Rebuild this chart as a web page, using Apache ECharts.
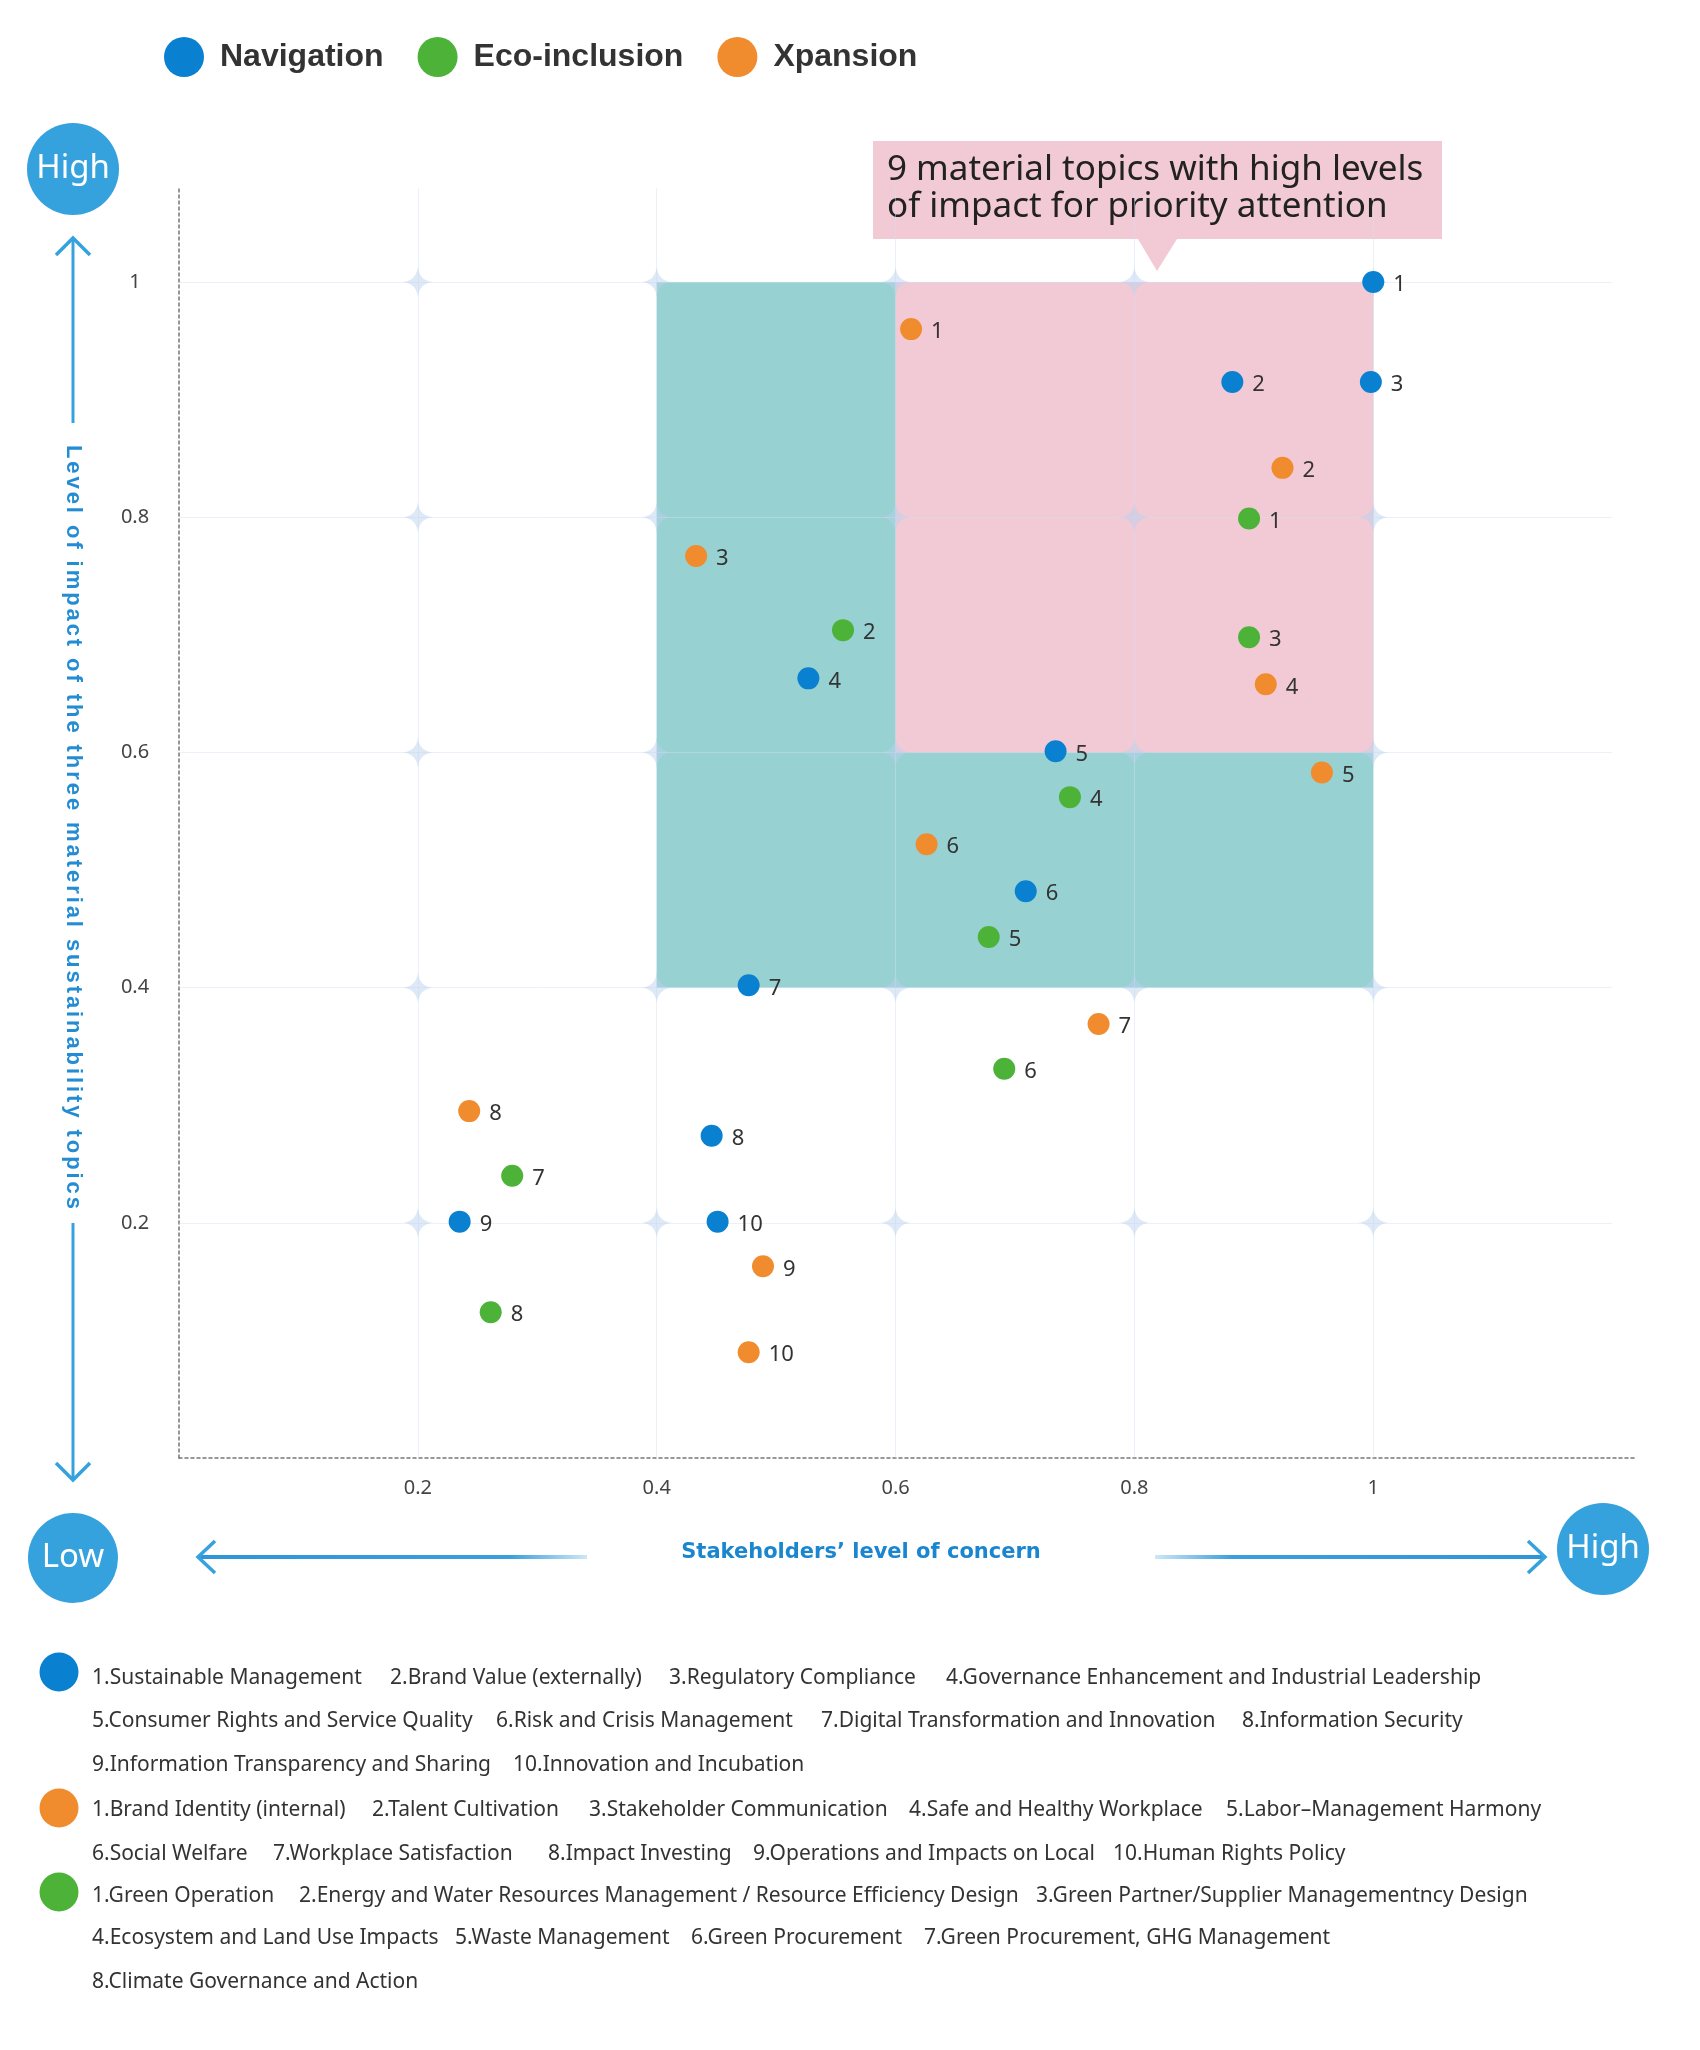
<!DOCTYPE html>
<html><head><meta charset="utf-8">
<script src="https://cdn.jsdelivr.net/npm/echarts@6/dist/echarts.min.js"></script>
<style>html,body{margin:0;padding:0;background:#fff}#chart{width:1700px;height:2050px}</style>
</head><body><div id="chart"></div>
<script>
// ---------------- data ----------------
const seriesNames = ['Navigation', 'Eco-inclusion', 'Xpansion'];
const xTicks = [0.2, 0.4, 0.6, 0.8, 1];
const yTicks = [0.2, 0.4, 0.6, 0.8, 1];

const navigationX = [1.0, 0.882, 0.998, 0.527, 0.734, 0.709, 0.477, 0.446, 0.235, 0.451];
const navigationY = [1.0, 0.915, 0.915, 0.663, 0.601, 0.482, 0.402, 0.274, 0.201, 0.201];
const ecoX = [0.896, 0.556, 0.896, 0.746, 0.678, 0.691, 0.279, 0.261];
const ecoY = [0.799, 0.704, 0.698, 0.562, 0.443, 0.331, 0.240, 0.124];
const xpansionX = [0.613, 0.924, 0.433, 0.910, 0.957, 0.626, 0.770, 0.243, 0.489, 0.477];
const xpansionY = [0.960, 0.842, 0.767, 0.658, 0.583, 0.522, 0.369, 0.295, 0.163, 0.090];

// focus zone (x0,y0,x1,y1) and priority zone
const focusZone = [0.4, 0.4, 1, 1];
const priorityZone = [0.6, 0.6, 1, 1];

const navigationTopics = ['Sustainable Management', 'Brand Value (externally)', 'Regulatory Compliance',
  'Governance Enhancement and Industrial Leadership', 'Consumer Rights and Service Quality',
  'Risk and Crisis Management', 'Digital Transformation and Innovation', 'Information Security',
  'Information Transparency and Sharing', 'Innovation and Incubation'];
const xpansionTopics = ['Brand Identity (internal)', 'Talent Cultivation', 'Stakeholder Communication',
  'Safe and Healthy Workplace', 'Labor\u2013Management Harmony', 'Social Welfare', 'Workplace Satisfaction',
  'Impact Investing', 'Operations and Impacts on Local', 'Human Rights Policy'];
const ecoTopics = ['Green Operation', 'Energy and Water Resources Management / Resource Efficiency Design',
  'Green Partner/Supplier Managementncy Design', 'Ecosystem and Land Use Impacts', 'Waste Management',
  'Green Procurement', 'Green Procurement, GHG Management', 'Climate Governance and Action'];

const calloutText = '9 material topics with high levels\nof impact for priority attention';
const yTitle = 'Level of impact of the three material sustainability topics';
const xTitle = 'Stakeholders\u2019 level of concern';

// ---------------- styles / layout ----------------
const colors = { nav: '#0a80d0', eco: '#4cb238', xp: '#f08c2e' };
const accent = '#36a2dd';
const titleBlue = '#238cd3';
const PINK = '#f2cad5', TEAL = '#97d1d2';

const chart = echarts.init(document.getElementById('chart'));

function pts(xs, ys) { return xs.map((x, i) => [x, ys[i], i + 1]); }

const starPath = 'path://M50,0 Q55,45 100,50 Q55,55 50,100 Q45,55 0,50 Q45,45 50,0 Z';
const starData = [];
xTicks.forEach(x => yTicks.forEach(y => starData.push([x, y])));

const gridLines = xTicks.map(v => [{ coord: [v, 0] }, { coord: [v, 1.08] }])
  .concat(yTicks.map(v => [{ coord: [0, v] }, { coord: [1.2, v] }]));

function pointSeries(name, data, color) {
  return {
    name, type: 'scatter', z: 5, symbolSize: 22, data,
    itemStyle: { color, opacity: 1 },
    label: {
      show: true, position: 'right', distance: 9, offset: [0, 3],
      formatter: p => p.value[2], fontSize: 22, color: '#333', fontFamily: 'Noto Sans'
    },
    emphasis: { disabled: true }
  };
}

// bottom topic key layout: rows of [topicList, indices, x positions, y]
const keyRows = [
  [navigationTopics, [0, 1, 2, 3], [92, 390, 669, 946], 1678],
  [navigationTopics, [4, 5, 6, 7], [92, 496, 821, 1242], 1721],
  [navigationTopics, [8, 9], [92, 513], 1765],
  [xpansionTopics, [0, 1, 2, 3, 4], [92, 372, 589, 909, 1226], 1810],
  [xpansionTopics, [5, 6, 7, 8, 9], [92, 273, 548, 753, 1113], 1854],
  [ecoTopics, [0, 1, 2], [92, 299, 1036], 1896],
  [ecoTopics, [3, 4, 5, 6], [92, 455, 691, 924], 1938],
  [ecoTopics, [7], [92], 1982]
];
const keyDots = [[colors.nav, 1672], [colors.xp, 1808], [colors.eco, 1892]];

const graphics = [];
keyRows.forEach(([list, idx, xs, y]) => {
  idx.forEach((k, j) => graphics.push({
    type: 'text', x: xs[j], y,
    style: { text: (k + 1) + '.' + list[k], fontSize: 21, fontFamily: 'Noto Sans', fill: '#333', verticalAlign: 'middle' }
  }));
});
keyDots.forEach(([c, y]) => graphics.push({ type: 'circle', shape: { cx: 59, cy: y, r: 19.5 }, style: { fill: c } }));

// High / Low bubbles
[[73, 169, 46, 'High'], [73, 1558, 45, 'Low'], [1603, 1549, 46, 'High']].forEach(([cx, cy, r, t]) => {
  graphics.push({ type: 'circle', shape: { cx, cy, r }, style: { fill: accent } });
  graphics.push({ type: 'text', x: cx, y: cy, style: { text: t, fill: '#fff', fontSize: 33, fontFamily: 'Noto Sans', align: 'center', verticalAlign: 'middle' } });
});

// vertical arrows
graphics.push({ type: 'line', shape: { x1: 73, y1: 240, x2: 73, y2: 423 }, style: { stroke: accent, lineWidth: 3 } });
graphics.push({ type: 'polyline', shape: { points: [[56, 255], [73, 238], [90, 255]] }, style: { stroke: accent, lineWidth: 3.5, fill: null } });
graphics.push({ type: 'line', shape: { x1: 73, y1: 1223, x2: 73, y2: 1479 }, style: { stroke: accent, lineWidth: 3 } });
graphics.push({ type: 'polyline', shape: { points: [[56, 1463], [73, 1480], [90, 1463]] }, style: { stroke: accent, lineWidth: 3.5, fill: null } });

// horizontal arrows
graphics.push({ type: 'rect', shape: { x: 199, y: 1555, width: 388, height: 4 },
  style: { fill: { type: 'linear', x: 0, y: 0, x2: 1, y2: 0, colorStops: [{ offset: 0, color: '#2e95d8' }, { offset: 0.8, color: '#3a9fdc' }, { offset: 1, color: 'rgba(58,159,220,0.25)' }] } } });
graphics.push({ type: 'polyline', shape: { points: [[215, 1541], [198, 1557], [215, 1573]] }, style: { stroke: accent, lineWidth: 3.5, fill: null } });
graphics.push({ type: 'rect', shape: { x: 1155, y: 1555, width: 389, height: 4 },
  style: { fill: { type: 'linear', x: 0, y: 0, x2: 1, y2: 0, colorStops: [{ offset: 0, color: 'rgba(58,159,220,0.25)' }, { offset: 0.2, color: '#3a9fdc' }, { offset: 1, color: '#2e95d8' }] } } });
graphics.push({ type: 'polyline', shape: { points: [[1528, 1541], [1545, 1557], [1528, 1573]] }, style: { stroke: accent, lineWidth: 3.5, fill: null } });

// vertical (letter-spaced) axis title
(function () {
  const font = 'bold 22px "Liberation Sans"';
  const ctx = document.createElement('canvas').getContext('2d');
  ctx.font = font;
  const chars = Array.from(yTitle);
  const widths = chars.map(c => ctx.measureText(c).width);
  const total = 764, start = 445;
  const sum = widths.reduce((a, b) => a + b, 0);
  const gap = (total - sum) / (chars.length - 1);
  let pos = start;
  chars.forEach((c, i) => {
    graphics.push({ type: 'text', x: 73, y: pos, rotation: -Math.PI / 2,
      style: { text: c, fill: titleBlue, fontSize: 22, fontWeight: 'bold', fontFamily: 'Liberation Sans', align: 'left', verticalAlign: 'middle' } });
    pos += widths[i] + gap;
  });
})();
graphics.push({ type: 'text', x: 861, y: 1553,
  style: { text: xTitle, fill: '#1a86cf', fontSize: 21, fontWeight: 'bold', fontFamily: 'DejaVu Sans', align: 'center', verticalAlign: 'middle' } });

// callout
graphics.push({ type: 'polygon', shape: { points: [[873, 141], [1442, 141], [1442, 239], [1177, 239], [1157, 271], [1138, 239], [873, 239]] }, style: { fill: PINK } });
graphics.push({ type: 'text', x: 887, y: 189,
  style: { text: calloutText, fill: '#222', fontSize: 35, lineHeight: 37, fontFamily: 'Noto Sans', verticalAlign: 'middle' } });

const option = {
  backgroundColor: '#fff',
  animation: false,
  legend: {
    data: seriesNames, left: 159, top: 32, icon: 'circle', itemWidth: 40, itemHeight: 40, itemGap: 34,
    selectedMode: false,
    textStyle: { fontSize: 32, fontWeight: 'bold', fontFamily: 'Liberation Sans', color: '#333', padding: [0, 0, 0, 11] }
  },
  grid: { left: 179, right: 64, top: 188, bottom: 592, containLabel: false },
  xAxis: {
    type: 'value', min: 0, max: 1.22,
    axisLine: { show: true, onZero: false, lineStyle: { color: '#777', type: [3, 3], width: 1.5 } },
    axisTick: { show: false }, splitLine: { show: false },
    axisLabel: { customValues: xTicks, margin: 20, fontSize: 20, color: '#444', fontFamily: 'Noto Sans' }
  },
  yAxis: {
    type: 'value', min: 0, max: 1.08,
    axisLine: { show: true, onZero: false, lineStyle: { color: '#777', type: [3, 3], width: 1.5 } },
    axisTick: { show: false }, splitLine: { show: false },
    axisLabel: { customValues: yTicks, margin: 44, align: 'center', fontSize: 20, color: '#444', fontFamily: 'Noto Sans' }
  },
  series: [
    {
      name: 'zones', type: 'scatter', z: 1, silent: true, symbolSize: 0, data: [[focusZone[0], focusZone[1]]],
      itemStyle: { opacity: 0 },
      markArea: {
        silent: true, z: 1,
        data: [
          [{ coord: [focusZone[0], focusZone[1]], itemStyle: { color: TEAL } }, { coord: [focusZone[2], focusZone[3]] }],
          [{ coord: [priorityZone[0], priorityZone[1]], itemStyle: { color: PINK } }, { coord: [priorityZone[2], priorityZone[3]] }]
        ]
      }
    },
    {
      name: 'gridstars', type: 'scatter', z: 3, silent: true, symbol: starPath, symbolSize: 30,
      itemStyle: { color: 'rgba(185,210,238,0.6)' }, data: starData,
      markLine: {
        silent: true, symbol: 'none', z: 2, animation: false,
        lineStyle: { color: 'rgba(210,225,240,0.45)', width: 1, type: 'solid' },
        label: { show: false }, data: gridLines
      }
    },
    pointSeries('Navigation', pts(navigationX, navigationY), colors.nav),
    pointSeries('Eco-inclusion', pts(ecoX, ecoY), colors.eco),
    pointSeries('Xpansion', pts(xpansionX, xpansionY), colors.xp)
  ],
  graphic: graphics
};
chart.setOption(option);
</script>
</body></html>
